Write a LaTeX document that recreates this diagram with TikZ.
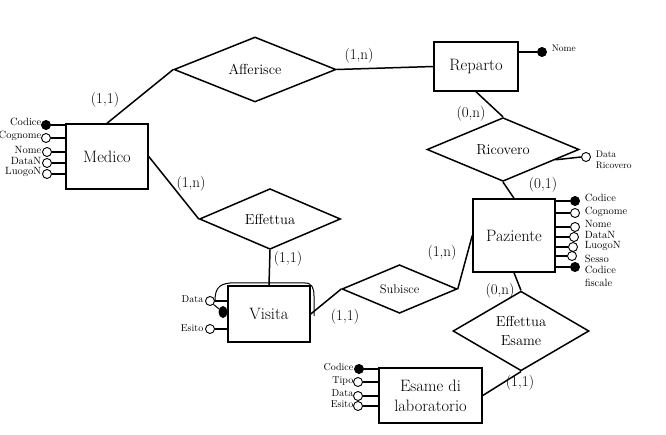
\documentclass[tikz,border=0pt]{standalone}
\usepackage{fontspec}
\usetikzlibrary{shapes.geometric,calc}
\begin{document}
\begin{tikzpicture}[x=1pt,y=-1pt, line width=1.5pt,
 ent/.style={draw, rectangle, inner sep=0pt, align=center, font=\fontsize{16.5}{20}\selectfont},
 rel/.style={draw, diamond, inner sep=0pt, align=center, font=\fontsize{14.5}{19}\selectfont},
 card/.style={inner sep=0pt, font=\fontsize{15}{18}\selectfont},
 attr/.style={draw, circle, fill=white, minimum size=9pt, inner sep=0pt, line width=0.9pt},
 keyattr/.style={attr, fill=black},
 alab/.style={inner sep=0pt, font=\fontsize{10.5}{12}\selectfont},
 slab/.style={inner sep=0pt, align=left, font=\fontsize{9.5}{11}\selectfont}]
\useasboundingbox (0,0) rectangle (666,435);

% entities
\node[ent, minimum width=82pt, minimum height=65pt] (Medico) at (107,156.5) {Medico};
\node[ent, minimum width=84pt, minimum height=49pt] (Reparto) at (476,66.5) {Reparto};
\node[ent, minimum width=82pt, minimum height=73pt] (Paziente) at (514,235.5) {Paziente};
\node[ent, minimum width=82pt, minimum height=56pt] (Visita) at (269,314) {Visita};
\node[ent, minimum width=103pt, minimum height=55pt] (Esame) at (430.5,395.5) {Esame di\\laboratorio};

% relationships
\node[rel, minimum width=162pt, minimum height=65pt] (Afferisce) at (255,69.5) {Afferisce};
\node[rel, minimum width=152pt, minimum height=49pt] (Ricovero) at (503,149.5) {Ricovero};
\node[rel, minimum width=141pt, minimum height=48pt] (Effettua) at (270,219) {Effettua};
\node[rel, minimum width=115pt, minimum height=32pt, font=\fontsize{12.5}{15}\selectfont] (Subisce) at (399.5,289) {Subisce};
\node[rel, minimum width=136pt, minimum height=48pt] (EffEsame) at (521,331) {Effettua\\Esame};

% connectors
\draw (Medico.north) -- (Afferisce.west);
\draw (Afferisce.east) -- (Reparto.west);
\draw (Reparto.south) -- (Ricovero.north);
\draw (Ricovero.south) -- (Paziente.north);
\draw (Medico.east) -- (Effettua.west);
\draw (Effettua.south) -- (Visita.north);
\draw (Visita.east) -- (Subisce.west);
\draw (Subisce.east) -- (Paziente.west);
\draw (Paziente.south) -- (EffEsame.north);
\draw (EffEsame.south) -- (Esame.east);

% cardinalities
\node[card] (c1) at (105,100) {(1,1)};
\node[card] (c2) at (359,56) {(1,n)};
\node[card] (c3) at (471,114) {(0,n)};
\node[card] (c4) at (543,185) {(0,1)};
\node[card] (c5) at (191,184) {(1,n)};
\node[card] (c6) at (288,259) {(1,1)};
\node[card] (c7) at (345,317) {(1,1)};
\node[card] (c8) at (442,253) {(1,n)};
\node[card] (c9) at (500,291) {(0,n)};
\node[card] (c10) at (520,383) {(1,1)};

% Medico attributes
\node[keyattr] (mA) at (46,125) {};
\node[attr] (mB) at (46,138) {};
\node[attr] (mC) at (47,152) {};
\node[attr] (mD) at (47,163) {};
\node[attr] (mE) at (47,174) {};
\foreach \a in {mA,mB,mC,mD,mE} \draw (\a.east) -- (\a -| Medico.west);
\node[alab, anchor=east] (lmA) at (42,122) {Codice};
\node[alab, anchor=east] (lmB) at (42,136) {Cognome};
\node[alab, anchor=east] (lmC) at (42,150) {Nome};
\node[alab, anchor=east] (lmD) at (42,161) {DataN};
\node[alab, anchor=east] (lmE) at (42,172) {LuogoN};

% Reparto attribute
\node[keyattr] (rN) at (542,52) {};
\draw (rN.west) -- (rN -| Reparto.east);
\node[slab, anchor=west] (lrN) at (551,48) {Nome};

% Ricovero attribute
\node[attr] (rDR) at (586,157) {};
\draw (rDR.west) -- ($(Ricovero.east)!0.316!(Ricovero.south)$);
\node[slab, anchor=west] (lrDR) at (595,160) {Data\\Ricovero};

% Paziente attributes
\node[keyattr] (pA) at (575,201) {};
\node[attr] (pB) at (575,213) {};
\node[attr] (pC) at (575,227) {};
\node[attr] (pD) at (574,237) {};
\node[attr] (pE) at (573,247) {};
\node[attr] (pF) at (572,256) {};
\node[keyattr] (pG) at (575,267) {};
\foreach \a in {pA,pB,pC,pD,pE,pF,pG} \draw (\a.west) -- (\a -| Paziente.east);
\node[alab, anchor=west] (lpA) at (584,198) {Codice};
\node[alab, anchor=west] (lpB) at (584,212) {Cognome};
\node[alab, anchor=west] (lpC) at (584,224) {Nome};
\node[alab, anchor=west] (lpD) at (584,235) {DataN};
\node[alab, anchor=west] (lpE) at (584,246) {LuogoN};
\node[alab, anchor=west] (lpF) at (584,259) {Sesso};
\node[alab, anchor=west, align=left, font=\fontsize{10.5}{13}\selectfont] (lpG) at (584,276.5) {Codice\\fiscale};

% Visita attributes
\node[attr] (vD) at (210,301) {};
\node[attr] (vE) at (210,329) {};
\node[keyattr, ellipse, minimum width=8pt, minimum height=11pt] (vK) at (223,312) {};
\coordinate (vEnd) at (314,316);
\draw (vD.east) -- (vD -| Visita.west);
\draw (vE.east) -- (vE -| Visita.west);
\draw[line width=1pt] (vD.south east) -- (vK);
\draw[line width=1pt] (vD.east) .. controls (215,290) and (218,284) .. (230,283) -- (305,283) .. controls (312,283) and (314,288) .. (314,296) -- (vEnd);
\node[alab, anchor=east, font=\fontsize{10}{12}\selectfont] (lvD) at (204,299) {Data};
\node[alab, anchor=east, font=\fontsize{10}{12}\selectfont] (lvE) at (204,328) {Esito};

% Esame attributes
\node[keyattr] (eA) at (359,369) {};
\node[attr] (eB) at (358,382) {};
\node[attr] (eC) at (358,396) {};
\node[attr] (eD) at (358,406) {};
\foreach \a in {eA,eB,eC,eD} \draw (\a.east) -- (\a -| Esame.west);
\node[alab, anchor=east, font=\fontsize{10}{12}\selectfont] (leA) at (354,367) {Codice};
\node[alab, anchor=east, font=\fontsize{10}{12}\selectfont] (leB) at (354,381) {Tipo};
\node[alab, anchor=east, font=\fontsize{10}{12}\selectfont] (leC) at (354,393) {Data};
\node[alab, anchor=east, font=\fontsize{10}{12}\selectfont] (leD) at (354,404) {Esito};
\end{tikzpicture}
\end{document}
